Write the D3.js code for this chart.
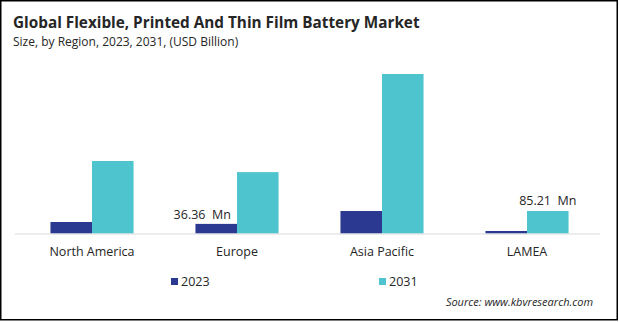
<!DOCTYPE html>
<html><head><meta charset="utf-8">
<script src="https://cdn.jsdelivr.net/npm/d3@7"></script>
<style>html,body{margin:0;padding:0;background:#fff;}svg{display:block;}</style>
</head><body>
<script>
const categories = ["North America", "Europe", "Asia Pacific", "LAMEA"];
const seriesNames = ["2023", "2031"];
const values2023 = [43.5, 36.36, 85, 9.5];
const values2031 = [274, 232, 603, 85.21];
const labels2023 = ["", "36.36  Mn", "", ""];
const labels2031 = ["", "", "", "85.21  Mn"];
const colors = ["#2B3990", "#4EC4CF"];

const W = 619, H = 322;
const svg = d3.select("body").append("svg").attr("width", W).attr("height", H);
const font = "'Open Sans', 'Noto Sans', sans-serif";

svg.append("rect").attr("x", 0.75).attr("y", 0.75).attr("width", 616.5).attr("height", 319)
  .attr("fill", "#fff").attr("stroke", "#000").attr("stroke-width", 1.5);

svg.append("text").attr("x", 13).attr("y", 28).attr("font-family", font)
  .attr("font-weight", 700).attr("font-size", 15.3).attr("fill", "#262626")
  .text("Global Flexible, Printed And Thin Film Battery Market");
svg.append("text").attr("x", 13).attr("y", 46).attr("font-family", font)
  .attr("font-size", 12).attr("fill", "#262626")
  .text("Size, by Region, 2023, 2031, (USD Billion)");

const baseline = 233.5;
const x0 = d3.scaleBand().domain(categories).range([19.5, 599.5]).paddingInner(0.427).paddingOuter(0.2135);
const x1 = d3.scaleBand().domain(seriesNames).range([0, x0.bandwidth()]);
const y = d3.scaleLinear().domain([0, 603]).range([baseline, 74]);

const data = categories.map((c, i) => ({cat: c, vals: [
  {s: "2023", v: values2023[i], lab: labels2023[i]},
  {s: "2031", v: values2031[i], lab: labels2031[i]}]}));

const g = svg.append("g");
const groups = g.selectAll("g.grp").data(data).join("g")
  .attr("transform", d => `translate(${x0(d.cat)},0)`);
groups.selectAll("rect").data(d => d.vals).join("rect")
  .attr("x", d => x1(d.s)).attr("width", x1.bandwidth())
  .attr("y", d => y(d.v)).attr("height", d => baseline - y(d.v))
  .attr("fill", (d, i) => colors[i]);

// axis line
svg.append("line").attr("x1", 15).attr("x2", 600).attr("y1", baseline + 0.5).attr("y2", baseline + 0.5)
  .attr("stroke", "#d9d9d9").attr("stroke-width", 1);

// category axis
const ax = svg.append("g").attr("transform", `translate(0,${baseline})`)
  .call(d3.axisBottom(x0).tickSize(0).tickPadding(14));
ax.select(".domain").remove();
ax.selectAll("text").attr("font-family", font).attr("font-size", 12.5).attr("fill", "#262626");

// data labels
groups.selectAll("text.lab").data(d => d.vals.filter(v => v.lab)).join("text")
  .attr("class", "lab")
  .attr("x", d => d.s === "2023" ? x1(d.s) + x1.bandwidth() / 2 - 14 : x1(d.s) + x1.bandwidth() / 2)
  .attr("y", d => y(d.v) - (d.s === "2023" ? 4.5 : 6))
  .attr("text-anchor", "middle").attr("font-family", font).attr("font-size", 12.5).attr("fill", "#262626")
  .style("white-space", "pre")
  .text(d => d.lab);

// legend
const legX = d3.scalePoint().domain(seriesNames).range([171, 379]);
const leg = svg.append("g").selectAll("g").data(seriesNames).join("g")
  .attr("transform", d => `translate(${legX(d)},278)`);
leg.append("rect").attr("width", 7).attr("height", 7).attr("fill", (d, i) => colors[i]);
leg.append("text").attr("x", 10).attr("y", 7.5).attr("font-family", font).attr("font-size", 12.5)
  .attr("fill", "#262626").text(d => d);

svg.append("text").attr("x", 593).attr("y", 306).attr("text-anchor", "end")
  .attr("font-family", font).attr("font-style", "italic").attr("font-size", 11).attr("fill", "#262626")
  .text("Source: www.kbvresearch.com");
</script>
</body></html>
